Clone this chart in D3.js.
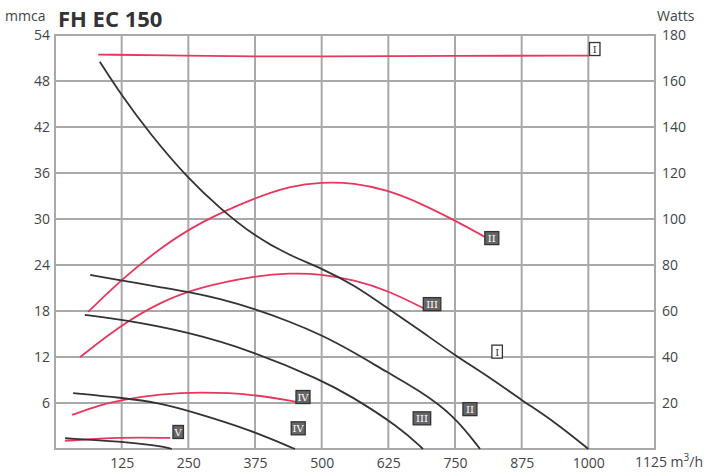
<!DOCTYPE html>
<html><head><meta charset="utf-8">
<script src="https://cdn.jsdelivr.net/npm/d3@7"></script>
<style>body{margin:0;background:#fff;font-family:"Open Sans",sans-serif;}</style>
</head><body><svg id="c" width="711" height="476"></svg>
<script>
const title = "FH EC 150";
const xTicks = [125,250,375,500,625,750,875,1000,1125];
const yLeftTicks = [6,12,18,24,30,36,42,48,54];
const yRightTicks = [20,40,60,80,100,120,140,160,180];
const curveNames = ["I","II","III","IV","V"];
// pressure curves (mmca) — [m3/h, mmca]
const pressI = [[84,50.5],[124,46.2],[178,41.1],[249,35.3],[309,31.4],[373,27.8],[441,25.2],[499,23.6],[561,21.4],[623,18.4],[684,15.5],[748,12.3],[816,9.3],[874,6.4],[938,3.5],[1000,0]];
const pressII = [[66,22.7],[124,22.0],[197,21.1],[249,20.5],[309,19.6],[373,18.3],[441,16.6],[499,14.9],[561,12.6],[623,10.0],[684,7.6],[748,4.4],[797,0]];
const pressIII = [[56,17.5],[124,16.9],[249,15.3],[373,12.7],[499,9.0],[553,7.0],[647,2.8],[690,0]];
const pressIV = [[34,7.3],[124,6.7],[197,6.0],[260,4.8],[366,2.5],[450,0]];
const pressV = [[19,1.4],[124,1.0],[197,0.4],[219,0]];
// power curves (Watts) — [m3/h, W]
const powerI = [[81,171.5],[250,171],[375,170.6],[500,170.7],[750,171],[1000,171]];
const powerII = [[62,59.6],[124,73.5],[197,87.4],[272,98.7],[373,109.1],[441,114.3],[499,116.1],[561,115.7],[623,112.6],[684,107],[748,99.6],[806,92.2]];
const powerIII = [[47,40],[124,53.9],[197,63.9],[272,70.4],[373,75.2],[441,76.5],[499,76.1],[561,73.5],[623,69.1],[698,60.4]];
const powerIV = [[32,14.8],[84,19.1],[124,21.3],[197,23.9],[272,24.8],[373,23.9],[454,20.4]];
const powerV = [[19,3.5],[124,5.2],[216,4.8]];
// label anchors
const powerLabels = [[1012,173.9],[819,91.7],[707,63],[465,22.6],[231,7.4]];
const pressLabels = [[829,12.7],[778,5.2],[688,4.0],[456,2.7]];

const svg = d3.select("#c");
const L=55,R=655,T=35,B=449;
const x = d3.scaleLinear().domain([0,1125]).range([L,R]);
const yL = d3.scaleLinear().domain([0,54]).range([B,T]);
const yR = d3.scaleLinear().domain([0,180]).range([B,T]);
const grid="#a9a9a9", txt="#444";

// grid
svg.append("g").selectAll("line").data(xTicks).join("line")
  .attr("x1",d=>x(d)).attr("x2",d=>x(d)).attr("y1",T).attr("y2",B)
  .attr("stroke",grid).attr("stroke-width",2);
svg.append("g").selectAll("line").data(yLeftTicks).join("line")
  .attr("x1",L).attr("x2",R).attr("y1",d=>yL(d)).attr("y2",d=>yL(d))
  .attr("stroke",grid).attr("stroke-width",2);
svg.append("rect").attr("x",L).attr("y",T).attr("width",R-L).attr("height",B-T)
  .attr("fill","none").attr("stroke",grid).attr("stroke-width",2);

// axes text
const ax = d3.axisBottom(x).tickValues(xTicks.slice(0,-1)).tickFormat(d3.format("d")).tickSize(0).tickPadding(6);
const gx = svg.append("g").attr("transform",`translate(0,${B})`).call(ax);
gx.select(".domain").remove();
gx.selectAll("text").attr("font-size",14).attr("fill",txt).attr("font-family","Open Sans").attr("dy","0.9em");
svg.append("text").attr("x",x(1125)).attr("y",B+18).attr("text-anchor","middle").attr("font-size",14).attr("fill",txt)
  .html('1125 m<tspan dy="-6" font-size="10">3</tspan><tspan dy="6">/h</tspan>').attr("dx",14);

const al = d3.axisLeft(yL).tickValues(yLeftTicks).tickSize(0).tickPadding(5);
const gl = svg.append("g").attr("transform",`translate(${L},0)`).call(al);
gl.select(".domain").remove();
gl.selectAll("text").attr("font-size",14).attr("fill",txt).attr("font-family","Open Sans");
const ar = d3.axisRight(yR).tickValues(yRightTicks).tickSize(0).tickPadding(7);
const gr = svg.append("g").attr("transform",`translate(${R},0)`).call(ar);
gr.select(".domain").remove();
gr.selectAll("text").attr("font-size",14).attr("fill",txt).attr("font-family","Open Sans");

svg.append("text").attr("x",5).attr("y",21).attr("font-size",14).attr("fill",txt).text("mmca");
svg.append("text").attr("x",657).attr("y",21).attr("font-size",14).attr("fill",txt).text("Watts");
svg.append("text").attr("x",58).attr("y",27).attr("font-size",22).attr("font-weight","bold").attr("fill","#333").text(title);

// curves
const lineL = d3.line().x(d=>x(d[0])).y(d=>yL(d[1])).curve(d3.curveBasis);
const lineR = d3.line().x(d=>x(d[0])).y(d=>yR(d[1])).curve(d3.curveBasis);
[powerI,powerII,powerIII,powerIV,powerV].forEach(s=>svg.append("path").attr("d",lineR(s))
  .attr("fill","none").attr("stroke","#e8365d").attr("stroke-width",1.8));
[pressI,pressII,pressIII,pressIV,pressV].forEach(s=>svg.append("path").attr("d",lineL(s))
  .attr("fill","none").attr("stroke","#333").attr("stroke-width",1.8));

function label(px,py,name){
  const light = name==="I";
  const g = svg.append("g").attr("transform",`translate(${px},${py})`);
  const w = 7+name.length*3.5;
  g.append("rect").attr("x",-w/2).attr("y",-6.5).attr("width",w).attr("height",13)
    .attr("fill",light?"#fff":"#666").attr("stroke","#333").attr("stroke-width",1.3);
  g.append("text").attr("text-anchor","middle").attr("y",4).attr("font-size",10).attr("font-family","DejaVu Serif")
    .attr("fill",light?"#333":"#fff").text(name);
}
powerLabels.forEach((d,i)=>label(x(d[0]),yR(d[1]),curveNames[i]));
pressLabels.forEach((d,i)=>label(x(d[0]),yL(d[1]),curveNames[i]));
</script></body></html>
